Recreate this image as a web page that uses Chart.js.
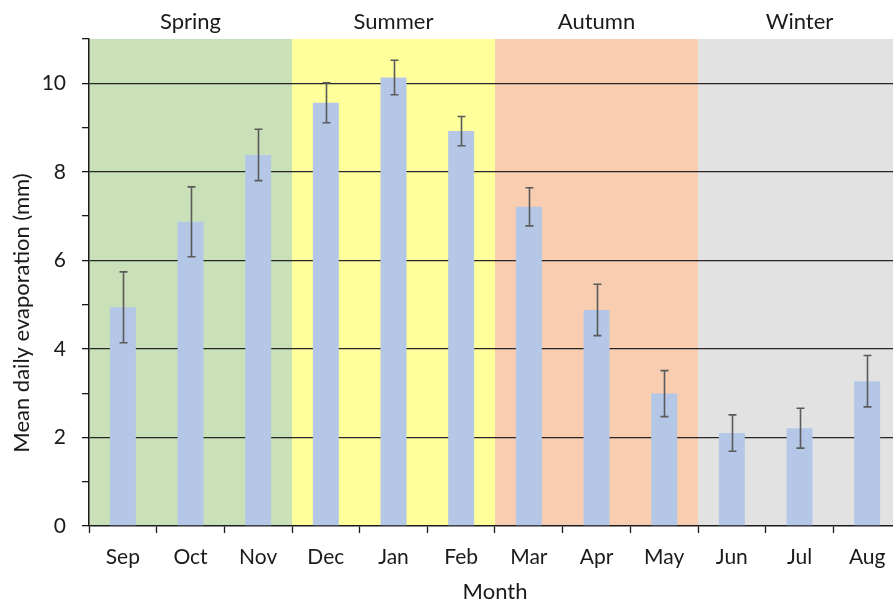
<!DOCTYPE html>
<html>
<head>
<meta charset="utf-8">
<script src="https://cdn.jsdelivr.net/npm/chart.js@4"></script>
<style>
  html, body { margin: 0; padding: 0; background: #fff; overflow: hidden; }
  #wrap { width: 893px; height: 606px; overflow: hidden; }
</style>
</head>
<body>
<div id="wrap"><canvas id="c" width="902" height="606"></canvas></div>
<script>
// Months in order of the southern-hemisphere year, starting with spring
const months = ['Sep','Oct','Nov','Dec','Jan','Feb','Mar','Apr','May','Jun','Jul','Aug'];
// Mean daily evaporation (mm)
const evaporation = [4.94, 6.87, 8.38, 9.56, 10.13, 8.92, 7.21, 4.88, 2.99, 2.10, 2.21, 3.27];
// Error (± mm) about each mean
const errorMm = [0.80, 0.79, 0.58, 0.45, 0.39, 0.33, 0.43, 0.58, 0.52, 0.41, 0.45, 0.58];
// Seasons, three months each
const seasons = ['Spring','Summer','Autumn','Winter'];
const seasonColors = ['#C9E0B8','#FFFF9C','#F8CDB0','#E2E2E2'];
const monthsPerSeason = 3;

const FONT = 'Lato, "Open Sans", sans-serif';
const TEXT = '#1a1a1a';

// Season shading behind the grid, plus season names above the plot
const seasonBands = {
  id: 'seasonBands',
  beforeDraw(chart) {
    const { ctx, chartArea: a, scales: { x } } = chart;
    const half = (x.getPixelForValue(1) - x.getPixelForValue(0)) / 2;
    ctx.save();
    seasons.forEach((name, s) => {
      const first = s * monthsPerSeason;
      const last = first + monthsPerSeason - 1;
      const x0 = x.getPixelForValue(first) - half;
      const x1 = x.getPixelForValue(last) + half;
      ctx.fillStyle = seasonColors[s];
      ctx.fillRect(x0, a.top, x1 - x0, a.bottom - a.top);
      ctx.fillStyle = TEXT;
      ctx.font = '22px ' + FONT;
      ctx.textAlign = 'center';
      ctx.textBaseline = 'middle';
      ctx.fillText(name, (x0 + x1) / 2, 22);
    });
    ctx.restore();
  }
};

// Error bars with caps, placed through the value scale
const errorBars = {
  id: 'errorBars',
  afterDatasetsDraw(chart) {
    const { ctx, scales: { y } } = chart;
    const meta = chart.getDatasetMeta(0);
    ctx.save();
    ctx.strokeStyle = '#5a5a5a';
    ctx.lineWidth = 1.6;
    meta.data.forEach((bar, i) => {
      const hi = y.getPixelForValue(evaporation[i] + errorMm[i]);
      const lo = y.getPixelForValue(evaporation[i] - errorMm[i]);
      const cx = Math.round(bar.x) + 0.5;
      ctx.beginPath();
      ctx.moveTo(cx, hi); ctx.lineTo(cx, lo);
      ctx.moveTo(cx - 4, hi); ctx.lineTo(cx + 4, hi);
      ctx.moveTo(cx - 4, lo); ctx.lineTo(cx + 4, lo);
      ctx.stroke();
    });
    ctx.restore();
  }
};

// Axis titles
const axisTitles = {
  id: 'axisTitles',
  afterDraw(chart) {
    const { ctx, chartArea: a } = chart;
    ctx.save();
    ctx.fillStyle = TEXT;
    ctx.font = '22px ' + FONT;
    ctx.textAlign = 'center';
    ctx.textBaseline = 'middle';
    ctx.fillText('Month', (a.left + a.right) / 2, 592);
    ctx.translate(22, 313);
    ctx.rotate(-Math.PI / 2);
    ctx.fillText('Mean daily evaporation (mm)', 0, 0);
    ctx.restore();
  }
};

new Chart(document.getElementById('c'), {
  type: 'bar',
  data: {
    labels: months,
    datasets: [{
      data: evaporation,
      backgroundColor: '#B4C7E7',
      borderWidth: 0,
      barPercentage: 0.48,
      categoryPercentage: 0.8
    }]
  },
  options: {
    responsive: false,
    animation: false,
    devicePixelRatio: 1,
    layout: { padding: { left: 0, top: 39, right: 1, bottom: 0 } },
    plugins: { legend: { display: false }, tooltip: { enabled: false } },
    scales: {
      x: {
        afterFit(scale) { scale.height = 80; },
        grid: {
          offset: true,
          drawOnChartArea: false,
          tickLength: 7,
          tickColor: '#1a1a1a',
          tickWidth: 1.3
        },
        border: { color: '#1a1a1a', width: 1.5 },
        ticks: { color: TEXT, font: { family: FONT, size: 21 }, padding: 12, maxRotation: 0 }
      },
      y: {
        min: 0,
        max: 11,
        afterFit(scale) { scale.width = 89; },
        grid: {
          tickLength: 7,
          color: c => (c.tick && c.tick.value % 2 === 0 && c.tick.value > 0) ? '#262626' : 'rgba(0,0,0,0)',
          lineWidth: 1.3,
          tickColor: '#1a1a1a',
          tickWidth: 1.3
        },
        border: { color: '#1a1a1a', width: 1.5 },
        ticks: {
          stepSize: 1,
          color: TEXT,
          font: { family: FONT, size: 21 },
          padding: 16,
          callback: v => (v % 2 === 0 ? v : '')
        }
      }
    }
  },
  plugins: [seasonBands, errorBars, axisTitles]
});
</script>
</body>
</html>
